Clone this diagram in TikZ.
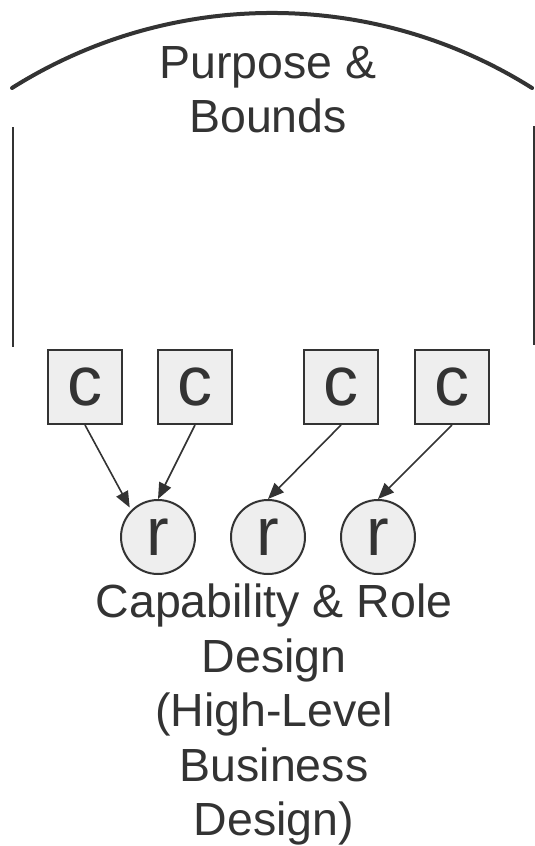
\documentclass[tikz,border=0pt]{standalone}
\usepackage{fontspec}
\setmainfont{Liberation Sans}
\usetikzlibrary{arrows.meta}
\definecolor{ink}{HTML}{333333}
\definecolor{boxfill}{HTML}{EEEEEE}
\begin{document}
\begin{tikzpicture}[x=1pt,y=1pt,
  cbox/.style={draw=ink,fill=boxfill,line width=2pt,minimum size=74pt,inner sep=0pt,text=ink,font=\fontsize{70}{70}\selectfont},
  rcirc/.style={draw=ink,fill=boxfill,circle,line width=2pt,minimum size=74pt,inner sep=0pt,text=ink,font=\fontsize{68}{68}\selectfont},
  label/.style={text=ink,align=center,inner sep=0pt,font=\fontsize{46.5}{54.5}\selectfont},
  link/.style={draw=ink,line width=1.6pt,-{Triangle[length=16pt,width=13pt]}}]
\useasboundingbox (0,0) rectangle (535,-846);
% bounds
\draw[ink,line width=4pt,line cap=round] (12,-88) arc[start angle=122.2,end angle=57.8,radius=488];
\draw[ink,line width=2pt] (13,-127) -- (13,-347);
\draw[ink,line width=2pt] (534,-126) -- (534,-345);
\node[label,anchor=north] (pb) at (268,-46) {Purpose \&\\Bounds};
% capabilities
\node[cbox] (c1) at (85,-387) {c};
\node[cbox] (c2) at (195,-387) {c};
\node[cbox] (c3) at (341,-387) {c};
\node[cbox] (c4) at (452,-387) {c};
% roles
\node[rcirc] (r1) at (158,-537) {r};
\node[rcirc] (r2) at (268,-537) {r};
\node[rcirc] (r3) at (378,-537) {r};
\draw[link,shorten >=3pt] (c1.south) -- (r1.north west);
\draw[link] (c2.south) -- (r1.north);
\draw[link] (c3.south) -- (r2.north);
\draw[link] (c4.south) -- (r3.north);
\node[label,anchor=north] (cr) at (274,-584) {Capability \& Role\\Design\\(High-Level\\Business\\Design)};
\end{tikzpicture}
\end{document}
